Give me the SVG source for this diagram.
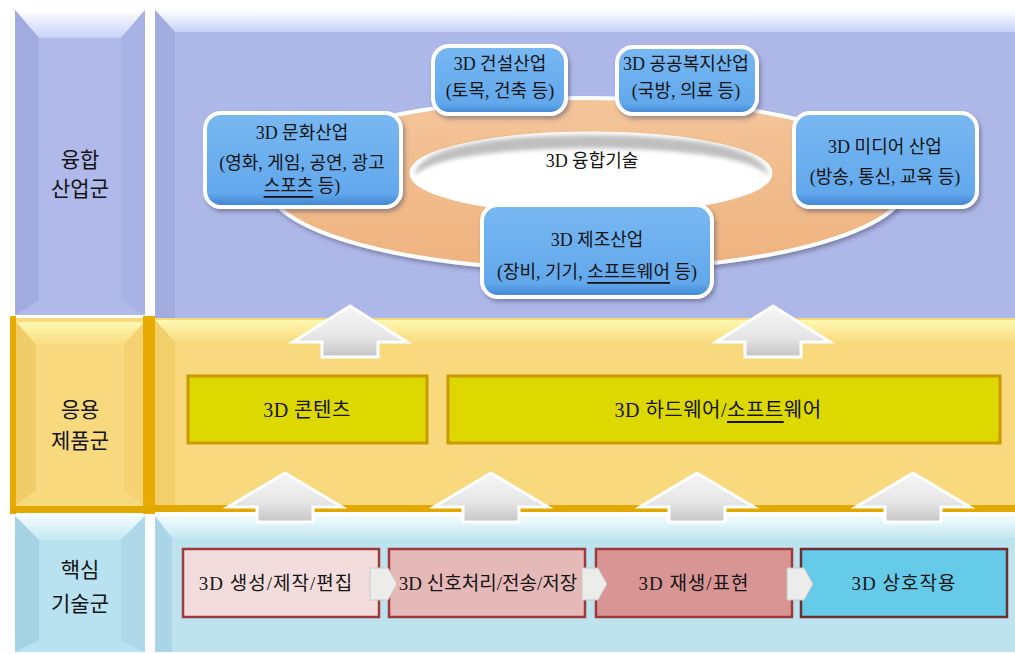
<svg xmlns="http://www.w3.org/2000/svg" width="1015" height="654" viewBox="0 0 1015 654">
<defs>
<style>
text{font-family:"Liberation Serif","Noto Sans CJK KR",sans-serif;fill:#141414;text-anchor:middle;dominant-baseline:central}
.lbl{font-size:21px}
.nt{font-size:18px}
.bx{font-size:19px;letter-spacing:1px}
.yb{font-size:20px;letter-spacing:0.5px}
.node rect.face{fill:url(#nodeGrad);stroke:#ffffff;stroke-width:4}
.up{fill:url(#arrGrad);stroke:#ffffff;stroke-width:3}
.chev{fill:#ececea;stroke:#c8c8c8;stroke-width:1}
</style>
<linearGradient id="nodeGrad" x1="0" y1="0" x2="0" y2="1">
<stop offset="0" stop-color="#78b8f2"/><stop offset="0.85" stop-color="#62a8ec"/><stop offset="1" stop-color="#3f84d0"/>
</linearGradient>
<linearGradient id="arrGrad" x1="0" y1="0" x2="0" y2="1">
<stop offset="0" stop-color="#f6f6f6"/><stop offset="0.6" stop-color="#e6e6e6"/><stop offset="1" stop-color="#c4c4c4"/>
</linearGradient>
<linearGradient id="purpTop" x1="0" y1="0" x2="0" y2="1">
<stop offset="0" stop-color="#ffffff"/><stop offset="1" stop-color="#c6d2f6"/>
</linearGradient>
<linearGradient id="yelTop" x1="0" y1="0" x2="0" y2="1">
<stop offset="0" stop-color="#fdf8b0"/><stop offset="1" stop-color="#f9dc80"/>
</linearGradient>
<linearGradient id="bluTop" x1="0" y1="0" x2="0" y2="1">
<stop offset="0" stop-color="#f2fcff"/><stop offset="1" stop-color="#c4e8f3"/>
</linearGradient>
<linearGradient id="ringGrad" x1="0" y1="0" x2="0" y2="1">
<stop offset="0" stop-color="#f4c59a"/><stop offset="1" stop-color="#eeb27e"/>
</linearGradient>
<filter id="sh" x="-10%" y="-10%" width="130%" height="140%">
<feDropShadow dx="2" dy="3" stdDeviation="2" flood-color="#404060" flood-opacity="0.45"/>
</filter>
<filter id="blur"><feGaussianBlur stdDeviation="2"/></filter>
</defs>
<rect width="1015" height="654" fill="#ffffff"/>

<!-- Purple band -->
<g id="band-convergence">
<rect x="15" y="10" width="130" height="305" fill="#b0b9e9"/>
<polygon points="15,10 145,10 121,38 39,38" fill="url(#purpTop)"/>
<polygon points="15,10 39,38 39,300 15,315" fill="#a2abdf"/>
<polygon points="145,10 121,38 121,300 145,315" fill="#a9b2e4"/>
<rect x="155" y="10" width="860" height="308" fill="#aeb8e8"/>
<polygon points="155,10 1015,10 1015,32 175,32" fill="url(#purpTop)"/>
<polygon points="155,10 175,32 175,318 155,318" fill="#a3acdf"/>
<text class="lbl" x="80" y="160">융합</text>
<text class="lbl" x="80" y="189">산업군</text>
</g>

<!-- Yellow band -->
<g id="band-application">
<rect x="155" y="318" width="860" height="194" fill="#f8d97e"/>
<rect x="155" y="320" width="860" height="22" fill="url(#yelTop)"/>
<polygon points="155,320 175,342 175,505 155,512" fill="#f2cf6a"/>
<rect x="155" y="505" width="860" height="7" fill="#e2a800"/>
<rect x="12" y="318" width="136" height="194" fill="#f8d97e"/>
<polygon points="16,322 144,322 124,345 36,345" fill="url(#yelTop)"/>
<polygon points="16,322 36,345 36,490 16,505" fill="#f0cc68"/>
<polygon points="144,322 124,345 124,490 144,505" fill="#f4d272"/>
<rect x="10" y="316" width="6" height="198" fill="#e8ac00"/>
<rect x="143" y="316" width="12" height="198" fill="#e8ac00"/>
<rect x="10" y="506" width="145" height="7" fill="#e2a800"/>
<text class="lbl" x="80" y="410">응용</text>
<text class="lbl" x="80" y="441">제품군</text>
</g>

<!-- Blue band -->
<g id="band-core">
<rect x="15" y="516" width="130" height="136" fill="#b9e2f0"/>
<polygon points="15,516 145,516 121,540 39,540" fill="url(#bluTop)"/>
<polygon points="15,516 39,540 39,640 15,652" fill="#a6d3e4"/>
<polygon points="145,516 121,540 121,640 145,652" fill="#aed8e8"/>
<rect x="155" y="516" width="860" height="136" fill="#bde3ef"/>
<rect x="155" y="516" width="860" height="22" fill="url(#bluTop)"/>
<polygon points="155,516 172,538 172,652 155,652" fill="#a9d5e6"/>
<text class="lbl" x="80" y="570">핵심</text>
<text class="lbl" x="80" y="604">기술군</text>
</g>

<!-- Ring -->
<g id="ring">
<ellipse cx="587" cy="184" rx="320" ry="86" fill="url(#ringGrad)" stroke="#ffffff" stroke-width="4" filter="url(#sh)"/>
<ellipse cx="591" cy="173" rx="180" ry="40" fill="#ffffff" stroke="#ffffff" stroke-width="3"/>
<path d="M414,176 Q420,136 591,135 Q762,136 769,176 Q745,150 591,148 Q438,150 414,176 Z" fill="#8a8a8a" opacity="0.55" filter="url(#blur)"/>
<text class="nt" x="592" y="161">3D 융합기술</text>
</g>

<!-- Nodes -->
<g id="node-culture" class="node">
<rect class="face" x="205" y="113" width="196" height="94" rx="16" filter="url(#sh)"/>
<text class="nt" x="302" y="133">3D 문화산업</text>
<text class="nt" x="302" y="163">(영화, 게임, 공연, 광고</text>
<text class="nt" x="302" y="186"><tspan text-decoration="underline">스포츠</tspan> 등)</text>
</g>
<g id="node-construction" class="node">
<rect class="face" x="433" y="46" width="133" height="68" rx="16" filter="url(#sh)"/>
<text class="nt" x="500" y="64">3D 건설산업</text>
<text class="nt" x="500" y="91">(토목, 건축 등)</text>
</g>
<g id="node-welfare" class="node">
<rect class="face" x="617" y="47" width="140" height="67" rx="16" filter="url(#sh)"/>
<text class="nt" x="686" y="64" font-size="17">3D 공공복지산업</text>
<text class="nt" x="686" y="91">(국방, 의료 등)</text>
</g>
<g id="node-media" class="node">
<rect class="face" x="794" y="113" width="183" height="94" rx="16" filter="url(#sh)"/>
<text class="nt" x="885" y="147">3D 미디어 산업</text>
<text class="nt" x="885" y="177">(방송, 통신, 교육 등)</text>
</g>
<g id="node-manufacturing" class="node">
<rect class="face" x="482" y="205" width="230" height="92" rx="16" filter="url(#sh)"/>
<text class="nt" x="597" y="240">3D 제조산업</text>
<text class="nt" x="597" y="272">(장비, 기기, <tspan text-decoration="underline">소프트웨어</tspan> 등)</text>
</g>

<g id="node-contents">
<rect x="188" y="376" width="239" height="67" fill="#dcd800" stroke="#c89a00" stroke-width="3"/>
<text class="yb" x="307" y="410">3D 콘텐츠</text>
</g>
<g id="node-hwsw">
<rect x="448" y="376" width="552" height="67" fill="#dcd800" stroke="#c89a00" stroke-width="3"/>
<text class="yb" x="718" y="410">3D 하드웨어/<tspan text-decoration="underline">소프트</tspan>웨어</text>
</g>

<g id="node-create">
<rect x="183" y="549" width="196" height="68" fill="#f3dcdc" stroke="#a03a3a" stroke-width="2.5"/>
<text class="bx" x="276" y="583">3D 생성/제작/편집</text>
</g>
<g id="node-signal">
<rect x="389" y="549" width="196" height="68" fill="#e6b9b9" stroke="#a03a3a" stroke-width="2.5"/>
<text class="bx" x="488" y="583" style="letter-spacing:0px">3D 신호처리/전송/저장</text>
</g>
<g id="node-play">
<rect x="596" y="549" width="196" height="68" fill="#d99494" stroke="#a03a3a" stroke-width="2.5"/>
<text class="bx" x="694" y="583">3D 재생/표현</text>
</g>
<g id="node-interact">
<rect x="801" y="549" width="206" height="68" fill="#66cbe9" stroke="#6a3030" stroke-width="2.5"/>
<text class="bx" x="904" y="583">3D 상호작용</text>
</g>

<!-- Connectors -->
<g id="connectors">
<polygon class="up" points="350,306 407,342 378,342 378,357 322,357 322,342 293,342"/>
<polygon class="up" points="773,306 830,342 801,342 801,357 745,357 745,342 716,342"/>
<polygon class="up" points="285,473 342,507 313,507 313,522 257,522 257,507 228,507"/>
<polygon class="up" points="491,473 548,507 519,507 519,522 463,522 463,507 434,507"/>
<polygon class="up" points="697,473 754,507 725,507 725,522 669,522 669,507 640,507"/>
<polygon class="up" points="913,473 970,507 941,507 941,522 885,522 885,507 856,507"/>
<polygon class="chev" points="370,568 388,568 397,584 388,600 370,600"/>
<polygon class="chev" points="582,568 598,568 607,584 598,600 582,600"/>
<polygon class="chev" points="787,568 804,568 813,584 804,600 787,600"/>
</g>
</svg>
